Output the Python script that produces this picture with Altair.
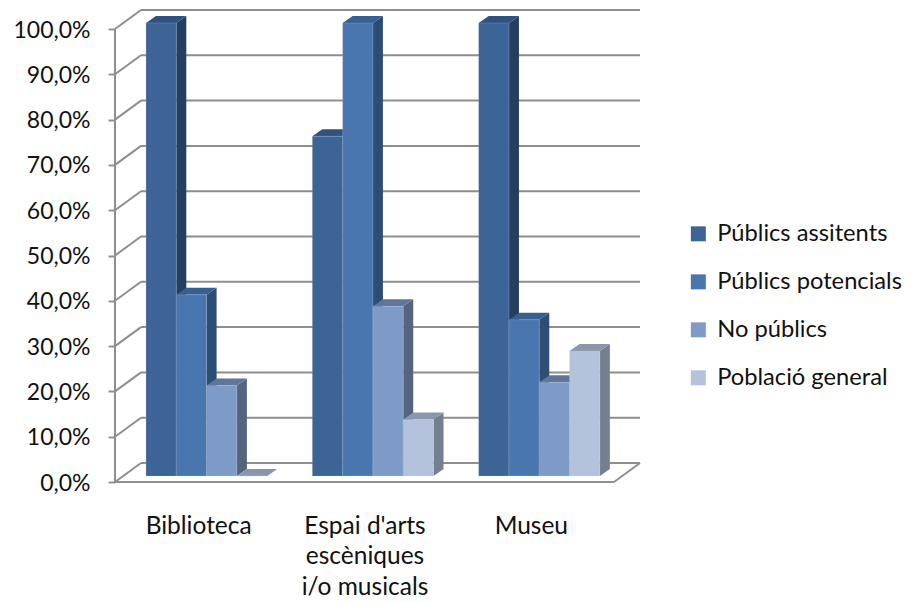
import json
import altair as alt
import pandas as pd

categories = ["Biblioteca", "Espai d'arts escèniques i/o musicals", "Museu"]
category_lines = [["Biblioteca"], ["Espai d'arts", "escèniques", "i/o musicals"], ["Museu"]]
series = ["Públics assitents", "Públics potencials", "No públics", "Població general"]
values = {
    "Públics assitents": [100.0, 75.0, 100.0],
    "Públics potencials": [40.0, 100.0, 34.5],
    "No públics": [20.0, 37.5, 20.7],
    "Població general": [0.0, 12.5, 27.6],
}
front_colors = ["#3C6496", "#4A76B0", "#7E9BC8", "#B4C2DC"]
side_colors = ["#253F60", "#2D4D75", "#54647F", "#767F90"]
top_colors = ["#2F5280", "#375F91", "#5F759B", "#8A96AC"]
ticks = [0, 10, 20, 30, 40, 50, 60, 70, 80, 90, 100]

PX_X = 166.33      # pixels per category
PX_Y = 4.53        # pixels per percent
WALL_DX = 26 / PX_X
WALL_DY = 19 / PX_Y
BAR_START = 31 / PX_X
BAR_W = 30.3 / PX_X
GROUP_STEP = 1.0
BAR_DX = 10 / PX_X
BAR_DY = 7 / PX_Y
BAR_BASE = 6 / PX_Y

x_scale = alt.Scale(domain=[0, 526 / PX_X], nice=False, zero=False)
y_scale = alt.Scale(domain=[0, 472 / PX_Y], nice=False, zero=False)
x_axis = alt.Axis(
    values=[0.5, 1.5, 2.5], title=None, grid=False, domain=False, ticks=False,
    labelExpr=json.dumps(category_lines) + "[floor(datum.value)]",
    labelFont="Lato", labelFontSize=24.5, labelColor="#111111", labelPadding=51,
    labelLineHeight=30.5, labelAngle=0, labelAlign="center", labelBaseline="alphabetic",
    labelOverlap=False,
)
y_axis = alt.Axis(
    values=ticks, title=None, grid=False, domain=False, tickSize=7, tickColor="#8e8e8e",
    tickWidth=2, labelExpr="replace(format(datum.value,'.1f'),'.',',')+'%'",
    labelFont="Lato", labelFontSize=23, labelColor="#111111", labelPadding=18,
    labelOverlap=False, labelOffset=1,
)
X = alt.X("x:Q", scale=x_scale, axis=x_axis)
Y = alt.Y("y:Q", scale=y_scale, axis=y_axis)
X2 = alt.X2("x2:Q")
Y2 = alt.Y2("y2:Q")

# Wall and floor lines
segments = []
for t in ticks:
    segments.append({"x": 0, "y": t, "x2": WALL_DX, "y2": t + WALL_DY})
    segments.append({"x": WALL_DX, "y": t + WALL_DY, "x2": 3 + WALL_DX, "y2": t + WALL_DY})
segments.append({"x": 0, "y": 0, "x2": 0, "y2": 100})
segments.append({"x": 0, "y": 0, "x2": 3, "y2": 0})
segments.append({"x": 3, "y": 0, "x2": 3 + WALL_DX, "y2": WALL_DY})
grid = alt.Chart(pd.DataFrame(segments)).mark_rule(color="#8e8e8e", strokeWidth=2).encode(x=X, y=Y, x2=X2, y2=Y2)

layers = [grid]
for si, name in enumerate(series):
    fronts, sides, tops = [], [], []
    for ci, cat in enumerate(categories):
        v = values[name][ci]
        x0 = ci * GROUP_STEP + BAR_START + si * BAR_W
        x1 = x0 + BAR_W
        top = BAR_BASE + v
        fronts.append({"series": name, "cat": cat, "x": x0, "x2": x1, "y": BAR_BASE, "y2": top})
        sides.append({"cat": cat, "x": x1, "y": BAR_BASE, "y2": top})
        sides.append({"cat": cat, "x": x1 + BAR_DX, "y": BAR_BASE + BAR_DY, "y2": top + BAR_DY})
        tops.append({"cat": cat, "y": top, "x": x0, "x2": x1})
        tops.append({"cat": cat, "y": top + BAR_DY, "x": x0 + BAR_DX, "x2": x1 + BAR_DX})
    side = alt.Chart(pd.DataFrame(sides)).mark_area(color=side_colors[si], orient="vertical", clip=False).encode(
        x=X, y=Y, y2=Y2, detail="cat:N")
    topf = alt.Chart(pd.DataFrame(tops)).mark_area(color=top_colors[si], orient="horizontal").encode(
        x=X, x2=X2, y=Y, detail="cat:N")
    front = alt.Chart(pd.DataFrame(fronts)).mark_rect(stroke="#C9D5E8", strokeWidth=0.5, strokeOpacity=0.4).encode(
        x=X, x2=X2, y=Y, y2=Y2,
        color=alt.Color(
            "series:N",
            scale=alt.Scale(domain=series, range=front_colors),
            legend=alt.Legend(
                title=None, orient="none", legendX=571.5, legendY=212,
                symbolType="square", symbolSize=225, symbolStrokeWidth=0, rowPadding=23,
                labelFont="Lato", labelFontSize=23.7, labelColor="#111111", labelOffset=7,
                labelLimit=300, padding=0,
            ),
        ),
    )
    layers += [side, topf, front]

chart = alt.layer(*layers).properties(
    width=526, height=472,
    padding={"left": 107, "top": 2, "right": 264, "bottom": 118},
    autosize=alt.AutoSizeParams(type="none"),
    background="white",
).configure_view(stroke=None)

chart.save("out.html", embed_options={"renderer": "svg", "actions": False})
